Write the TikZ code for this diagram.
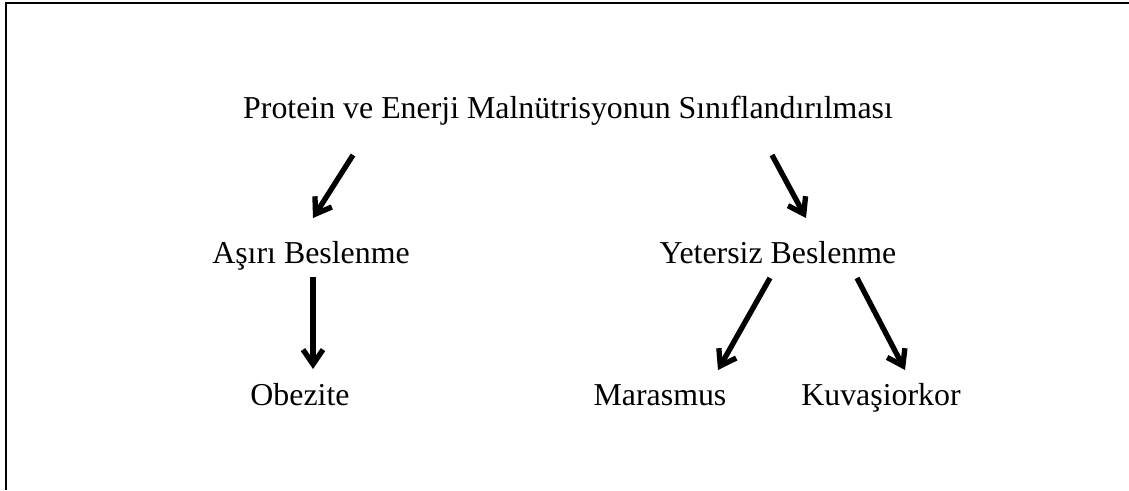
\documentclass[tikz,border=0pt]{standalone}
\usepackage{fontspec}
\setmainfont{Liberation Serif}
\usepackage{tikz}
\usetikzlibrary{positioning,arrows.meta}

\tikzset{
  lbl/.style={anchor=base,inner sep=0pt,font=\fontsize{23.9pt}{28pt}\selectfont},
  arr/.style={line width=4pt,-{Straight Barb[length=11pt,width=15pt]}}
}

\begin{document}
\begin{tikzpicture}[x=0.75pt,y=-0.75pt]
            \useasboundingbox (0,0) rectangle (1129,490);
            \path[draw=black,line width=1.5pt] (6,490) -- (6,3) -- (1129,3);
            \node[lbl] (title) at (568,118)
                 {Protein ve Enerji Malnütrisyonun Sınıflandırılması};
            \node[lbl] (asiri) at (311,263) {Aşırı Beslenme};
            \node[lbl] (yetersiz) at (778,263) {Yetersiz Beslenme};
            \node[lbl] (obezite) at (300,405) {Obezite};
            \node[lbl] (marasmus) at (660,405) {Marasmus};
            \node[lbl] (kuvasiorkor) at (881,405) {Kuvaşiorkor};
            \path[draw=black,arr] ([shift={(-215,37)}]title.base)
                 -- ([shift={(2,-45)}]asiri.base);
            \path[draw=black,arr] ([shift={(204,37)}]title.base)
                 -- ([shift={(28,-45)}]yetersiz.base);
            \path[draw=black,arr] ([shift={(2,14)}]asiri.base)
                 -- ([shift={(13,-36)}]obezite.base);
            \path[draw=black,arr] ([shift={(-8,15)}]yetersiz.base)
                 -- ([shift={(58,-35)}]marasmus.base);
            \path[draw=black,arr] ([shift={(79,15)}]yetersiz.base)
                 -- ([shift={(24,-35)}]kuvasiorkor.base);
          \end{tikzpicture}
\end{document}
